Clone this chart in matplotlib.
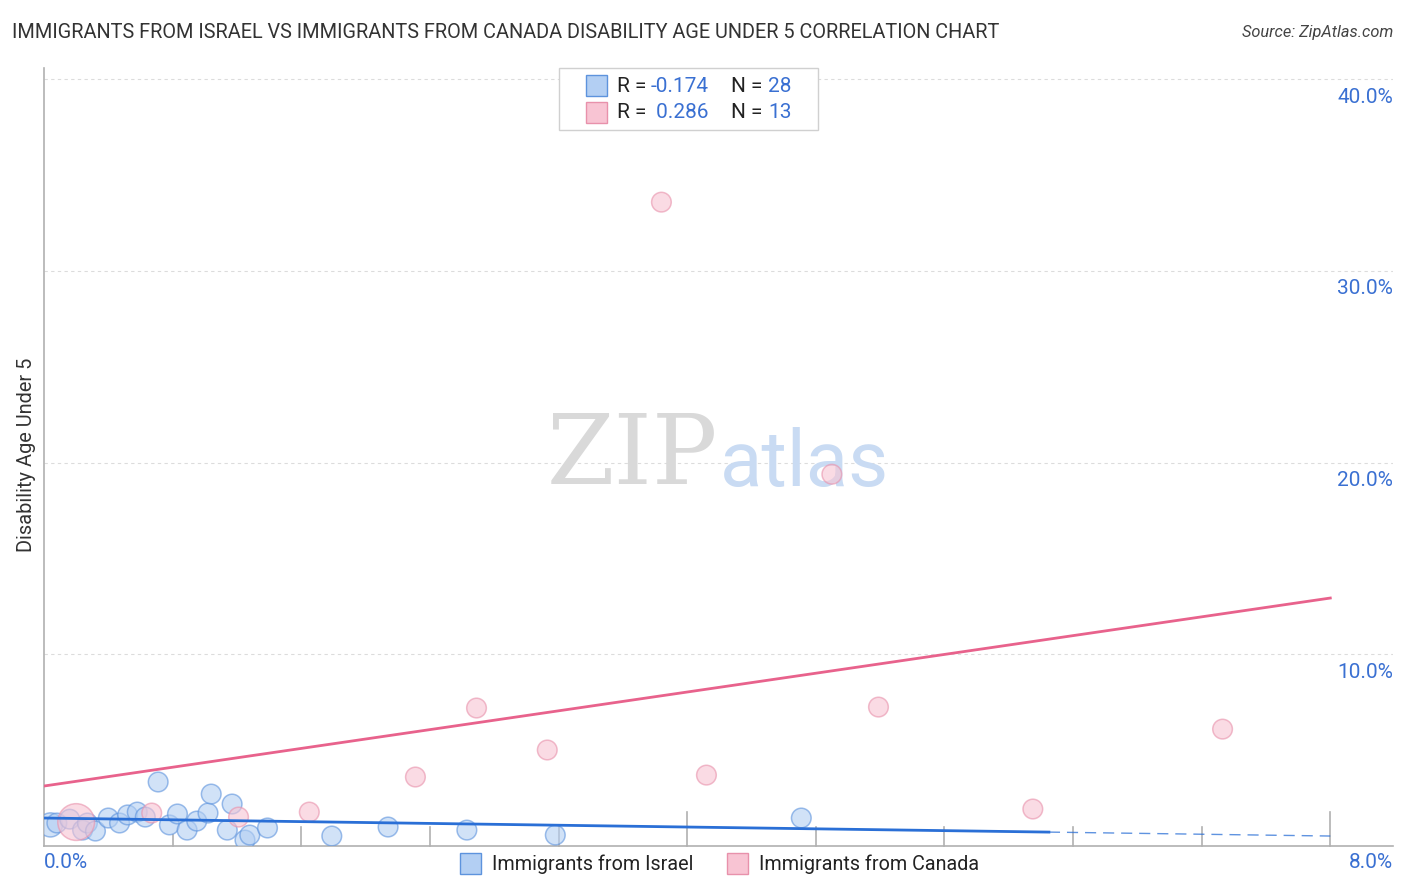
import matplotlib
matplotlib.use("Agg")
import matplotlib.pyplot as plt
from matplotlib.patches import Rectangle

# ---- data (percent) ----
israel_x = [0.04, 0.08, 0.16, 0.24, 0.27, 0.32, 0.40, 0.47, 0.52, 0.58, 0.63, 0.71, 0.78, 0.83,
            0.89, 0.95, 1.02, 1.04, 1.14, 1.17, 1.25, 1.28, 1.39, 1.79, 2.14, 2.63, 3.18, 4.71]
israel_y = [1.10, 1.20, 1.40, 0.83, 1.20, 0.78, 1.46, 1.20, 1.62, 1.77, 1.51, 3.34, 1.10, 1.67,
            0.83, 1.30, 1.72, 2.71, 0.83, 2.19, 0.31, 0.57, 0.94, 0.52, 0.99, 0.83, 0.57, 1.46]
israel_s = [300, 200, 200, 200, 200, 200, 200, 200, 200, 200, 200, 200, 200, 200,
            200, 200, 200, 200, 200, 200, 200, 200, 200, 200, 200, 200, 200, 200]

canada_x = [0.20, 0.67, 1.21, 1.65, 2.31, 2.69, 3.13, 3.84, 4.12, 4.90, 5.19, 6.15, 7.33]
canada_y = [1.25, 1.72, 1.51, 1.77, 3.60, 7.20, 5.01, 33.6, 3.70, 19.4, 7.25, 1.93, 6.10]
canada_s = [700, 200, 200, 200, 200, 200, 200, 200, 200, 200, 200, 200, 200]

israel_trend = (1.46, 0.52)   # y at x=0 and x=8
israel_solid_end = 6.25
canada_trend = (3.13, 12.94)

xmax, ymax = 8.39, 40.6
y_ticks = [10, 20, 30, 40]
y_ticklabels = ["10.0%", "20.0%", "30.0%", "40.0%"]
x_tick_pos = [0.8, 1.6, 2.4, 3.2, 4.0, 4.8, 5.6, 6.4, 7.2, 8.0]

title = "IMMIGRANTS FROM ISRAEL VS IMMIGRANTS FROM CANADA DISABILITY AGE UNDER 5 CORRELATION CHART"
source = "Source: ZipAtlas.com"
ylabel = "Disability Age Under 5"
legend_labels = ["Immigrants from Israel", "Immigrants from Canada"]
r_vals = ["-0.174", " 0.286"]
n_vals = ["28", "13"]

plt.rcParams['font.family'] = ['Roboto', 'DejaVu Sans']

W, H = 1406, 892
fig = plt.figure(figsize=(W / 100, H / 100), dpi=100)
ax = fig.add_axes([44 / W, (H - 846) / H, (1393 - 44) / W, (846 - 68) / H])
ax.set_xlim(0, xmax)
ax.set_ylim(0, ymax)

blue_fill = "#b3cff3"
blue_edge = "#5d93dd"
pink_fill = "#f8c4d3"
pink_edge = "#e891ab"
blue_line = "#2a6fd6"
pink_line = "#e8628c"
label_blue = "#3a70d2"

# grid
for yt in y_ticks:
    ax.axhline(yt, color="#dcdcdc", lw=0.8, ls=(0, (3, 3)), zorder=0)

# watermark
ax.text(0.5, 0.5, "ZIP", transform=ax.transAxes, fontsize=70, color="#d9d9d9",
        family="DejaVu Serif", ha="right", va="center", zorder=0)
ax.text(0.501, 0.49, "atlas", transform=ax.transAxes, fontsize=56, color="#c9dbf3",
        ha="left", va="center", zorder=0)

ax.scatter(israel_x, israel_y, s=israel_s, facecolor=blue_fill, edgecolor=blue_edge,
           alpha=0.6, linewidth=1.1, zorder=3)
ax.scatter(canada_x, canada_y, s=canada_s, facecolor=pink_fill, edgecolor=pink_edge,
           alpha=0.6, linewidth=1.1, zorder=3)

# trend lines
b0, b8 = israel_trend
slope = (b8 - b0) / 8.0
ax.plot([0, israel_solid_end], [b0, b0 + slope * israel_solid_end], color=blue_line, lw=2.0, zorder=4)
ax.plot([israel_solid_end, 8.0], [b0 + slope * israel_solid_end, b8], color=blue_line, lw=1.0,
        ls=(0, (8, 5)), alpha=0.75, zorder=4)
c0, c8 = canada_trend
ax.plot([0, 8.0], [c0, c8], color=pink_line, lw=2.0, zorder=4)

# spines
for s in ["top", "right"]:
    ax.spines[s].set_visible(False)
for s in ["left", "bottom"]:
    ax.spines[s].set_color("#b0b0b0")
    ax.spines[s].set_linewidth(1.2)
ax.set_xticks([])
ax.set_yticks([])

# x ticks going upward into the plot
for xt in x_tick_pos:
    h = 1.8 if xt in (4.0, 8.0) else 1.0
    if xt == 0.8:
        h = 0.6
    ax.plot([xt, xt], [0, h], color="#b0b0b0", lw=1.2, zorder=1, clip_on=False)

# y tick labels on right
for yt, lab in zip(y_ticks, y_ticklabels):
    fig.text(1393 / W, 1 - (846 - yt * 19.17 + 18) / H, lab, ha="right", va="center",
             fontsize=15, color=label_blue)

fig.text(44 / W, 1 - 862 / H, "0.0%", ha="left", va="center", fontsize=15, color=label_blue)
fig.text(1393 / W, 1 - 862 / H, "8.0%", ha="right", va="center", fontsize=15, color=label_blue)

fig.text(12 / W, 1 - 33 / H, title, ha="left", va="center", fontsize=14.3, color="#333333")
fig.text(1393 / W, 1 - 33 / H, source, ha="right", va="center", fontsize=11.8, color="#444444",
         style="italic")
fig.text(27 / W, 1 - 455 / H, ylabel, ha="center", va="center", rotation=90, fontsize=14.4,
         color="#333333")

# top legend box
fig.patches.append(Rectangle((559 / W, 1 - 130 / H), (818 - 559) / W, (130 - 68) / H,
                             transform=fig.transFigure, facecolor="white", edgecolor="#d0d0d0",
                             lw=1.0, zorder=10))
rows = [(86, blue_fill, blue_edge), (113, pink_fill, pink_edge)]
for (yy, fc, ec), r, n in zip(rows, r_vals, n_vals):
    fig.patches.append(Rectangle((586 / W, 1 - (yy + 10) / H), 21 / W, 21 / H,
                                 transform=fig.transFigure, facecolor=fc, edgecolor=ec,
                                 lw=1.0, zorder=11))
    fig.text(617 / W, 1 - yy / H, "R = ", ha="left", va="center", fontsize=15, color="#222222",
             zorder=12)
    fig.text(651 / W, 1 - yy / H, r, ha="left", va="center", fontsize=15, color=label_blue,
             zorder=12)
    fig.text(731 / W, 1 - yy / H, "N = ", ha="left", va="center", fontsize=15, color="#222222",
             zorder=12)
    fig.text(768 / W, 1 - yy / H, n, ha="left", va="center", fontsize=15, color=label_blue,
             zorder=12)

# bottom legend
for x0, fc, ec, lab in [(460, blue_fill, blue_edge, legend_labels[0]),
                        (727, pink_fill, pink_edge, legend_labels[1])]:
    fig.patches.append(Rectangle((x0 / W, 1 - 874 / H), 21 / W, 21 / H,
                                 transform=fig.transFigure, facecolor=fc, edgecolor=ec, lw=1.0))
    fig.text((x0 + 32) / W, 1 - 864 / H, lab, ha="left", va="center", fontsize=14.2,
             color="#222222")

fig.savefig("out.png", dpi=100)
